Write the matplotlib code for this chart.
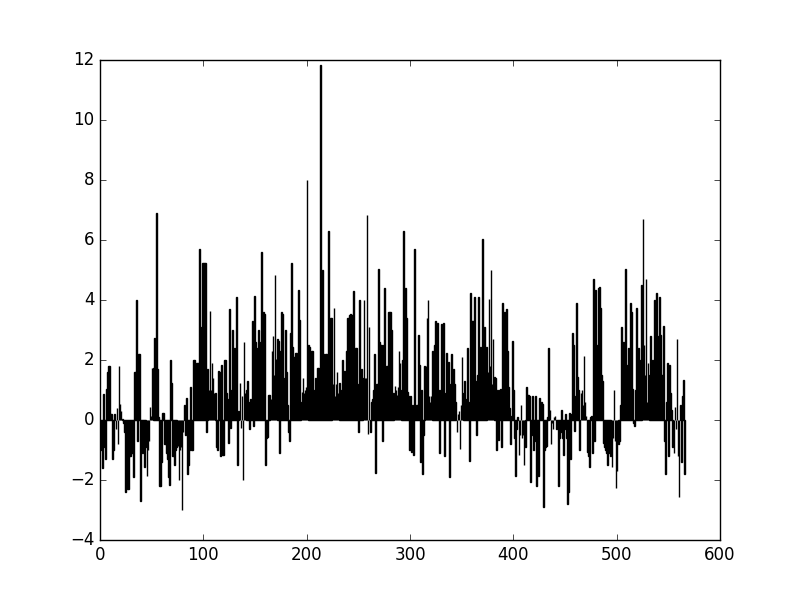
import numpy as np
import matplotlib

matplotlib.use("Agg")
import matplotlib.pyplot as plt

# bar heights, ten per row
values = [
    -0.9, -1.0, -1.6, 0.87, -0.9, -1.3, 1.05, 1.6, 1.8, 1.8,
    0.2, 0.2, -1.3, -1.0, 0.2, -0.3, 0.4, -0.8, 1.8, 0.55,
    0.3, 0.05, -0.1, -0.4, -2.4, -2.2, -2.3, -2.3, -1.2, -1.2,
    -1.1, -1.1, -1.9, 1.6, 1.6, 4.0, -0.7, 2.2, 2.2, -2.7,
    -0.5, -1.1, -1.0, -1.55, -0.9, -1.85, -1.0, -0.7, 0.45, 0.15,
    1.75, 1.75, 2.75, 0.3, 6.9, 1.7, 0.1, -2.2, -2.2, -1.4,
    0.25, 0.25, -0.8, -0.8, -1.1, -1.3, -1.9, -2.15, 2.0, 1.25,
    -1.2, -1.2, -1.5, -1.0, -0.9, -0.85, -2.0, -1.0, -0.9, -3.0,
    -0.4, 0.5, -0.5, 0.75, -1.8, -1.5, -1.0, 1.1, -1.0, -1.0,
    2.0, 2.0, 1.85, 1.9, 1.9, 1.9, 5.7, 1.9, 3.1, 5.25,
    5.25, 5.25, 5.25, -0.4, 1.7, 1.0, 3.65, 1.0, 1.9, 1.4,
    0.9, 0.9, -0.9, -1.0, 1.65, 1.6, -1.2, 1.85, -1.15, -1.15,
    2.0, 2.0, 0.9, 0.7, -0.75, 3.7, -0.25, 1.0, 3.0, 2.0,
    2.4, 1.85, 4.1, -1.5, 0.3, 1.25, -0.25, 0.8, -2.0, 2.6,
    0.9, 1.0, 1.3, 0.6, -0.3, 0.7, 0.65, 3.3, -0.2, 4.15,
    2.6, 2.4, 0.8, 3.0, 2.6, 0.9, 5.6, 1.2, 3.6, 3.55,
    -1.5, -0.6, -0.55, 0.85, 0.85, 0.7, 2.3, 2.8, 1.5, 4.85,
    2.05, 2.7, 2.65, -1.1, 2.3, 3.6, 3.55, 1.4, 1.0, 3.0,
    1.6, 0.5, -0.4, -0.7, 2.9, 5.25, 2.45, 2.1, 2.1, 2.25,
    2.25, 2.2, 4.35, 3.35, 0.6, 0.95, 1.4, 0.9, 1.0, 1.1,
    8.0, 2.5, 2.45, 1.0, 2.3, 2.3, 1.0, 0.95, 1.4, 1.0,
    1.75, 1.75, 1.0, 11.85, 1.2, 5.0, 2.2, 1.0, 2.2, 2.2,
    1.0, 6.3, 1.5, 3.4, 3.4, 1.2, 3.75, 0.8, 1.2, 1.6,
    0.9, 1.25, 0.7, 1.0, 2.0, 1.65, 1.3, 1.65, 2.3, 3.4,
    3.4, 3.5, 3.55, 3.5, 3.5, 4.3, 2.0, 2.4, 2.4, 1.2,
    -0.4, 4.0, 1.2, 1.7, 1.4, 4.0, 1.4, 1.4, 6.85, -0.45,
    3.1, -0.4, 0.6, 0.7, 1.0, 2.2, -1.75, 1.2, 1.2, 5.05,
    2.6, 2.5, 2.5, -0.7, 2.5, 4.4, 1.5, 1.8, 1.8, 3.6,
    3.6, 3.6, 3.0, 0.85, 0.9, 1.15, 1.0, 0.85, 1.1, 2.3,
    1.9, 1.0, 2.0, 6.3, 1.0, 4.4, 3.4, 0.95, 0.8, -1.0,
    0.8, -1.05, 0.5, -1.15, 5.7, 0.4, 0.5, 0.5, 2.85, 1.85,
    -1.4, 1.0, -1.8, -0.5, 1.8, 1.8, 3.4, 4.0, 0.8, 0.6,
    0.8, 2.3, 0.9, 2.5, 3.3, 0.8, 3.25, 1.0, -1.1, 1.0,
    3.2, 0.9, 3.25, -1.2, 0.9, 2.25, 1.1, 1.95, -1.9, 1.2,
    2.2, 1.6, 1.7, 1.2, 0.6, -0.4, 0.2, 0.3, -0.95, 0.5,
    2.1, 0.9, 1.3, 0.6, 0.7, 2.4, 0.6, -1.35, 4.25, 3.3,
    3.3, 3.3, 4.1, 1.3, -0.5, 1.5, 4.1, 1.5, 2.45, 2.4,
    6.05, 2.6, 3.1, 2.4, 2.45, 1.6, 4.05, 1.8, 5.0, 1.2,
    2.7, 1.45, 1.4, -1.0, 1.0, -0.65, 1.0, 1.05, -0.9, 3.9,
    0.9, 3.6, 1.1, 3.7, 2.3, 1.1, 0.4, -0.8, 0.15, 2.65,
    1.0, -0.6, -1.85, -0.3, 0.1, -1.15, -0.5, 0.5, -0.6, -0.5,
    -1.5, -0.9, 1.1, 0.85, 0.85, 0.8, -2.05, -0.5, 0.8, -1.0,
    -0.7, 0.8, -2.2, -1.2, -1.85, 0.75, 0.3, 0.6, 0.55, -2.9,
    -1.0, -0.9, -0.85, 0.1, 2.4, 0.35, -0.8, -0.1, -0.3, 0.1,
    0.15, -0.3, -0.1, -2.2, -0.6, -0.4, 0.35, -0.6, -1.15, -0.3,
    0.2, -0.6, -2.8, -2.4, 0.25, -1.3, 0.2, 2.9, 2.5,
    -0.35, 0.8, 3.9, 1.45, 1.0, -1.0, 0.9, 1.0, 0.5, 2.15,
    0.6, 0.15, -1.05, -1.2, -1.55, 0.1, 0.15, -1.1, 4.7, -0.7,
    4.35, 2.0, 2.5, 4.4, 4.45, 3.75, 1.5, 1.3, -0.75, -0.9,
    -1.0, -1.1, -1.5, -1.0, -1.1, -1.2, -1.55, -0.6, 1.0, -0.7,
    -2.25, -1.7, -0.8, -0.7, 0.5, 3.1, 1.5, 2.6, 1.0, 5.05,
    1.85, 1.0, 2.4, 1.0, 3.9, 3.6, 1.05, -0.1, -0.2, 1.0,
    3.75, 1.8, 2.4, 1.0, 2.0, 4.5, 6.7, 2.5, 1.5, 4.7,
    0.6, 1.9, 1.5, 2.8, 2.0, 1.6, 2.0, 4.0, 2.0, 4.25,
    2.8, 2.0, 4.1, 2.85, 1.5, 1.5, 3.15, -0.7, -1.8, 0.6,
    1.9, -1.2, 1.85, 0.9, 0.35, -0.9, -1.1, 0.45, -0.3, 2.7,
    -1.2, -2.55, 0.5, -1.4, 0.8, 1.35, -1.8,
]

x_ticks = [0, 100, 200, 300, 400, 500, 600]
y_ticks = [-4, -2, 0, 2, 4, 6, 8, 10, 12]

plt.style.use("classic")
fig = plt.figure(figsize=(8, 6), dpi=100, facecolor="white")
ax = fig.add_axes([0.125, 0.1, 0.775, 0.8])

ax.bar(np.arange(len(values)), values, width=0.8, align="edge", color="k", edgecolor="k", linewidth=1.0)

ax.set_xlim(0, 600)
ax.set_ylim(-4, 12)
ax.set_xticks(x_ticks)
ax.set_yticks(y_ticks)

fig.savefig("out.png", dpi=100, facecolor="white")
